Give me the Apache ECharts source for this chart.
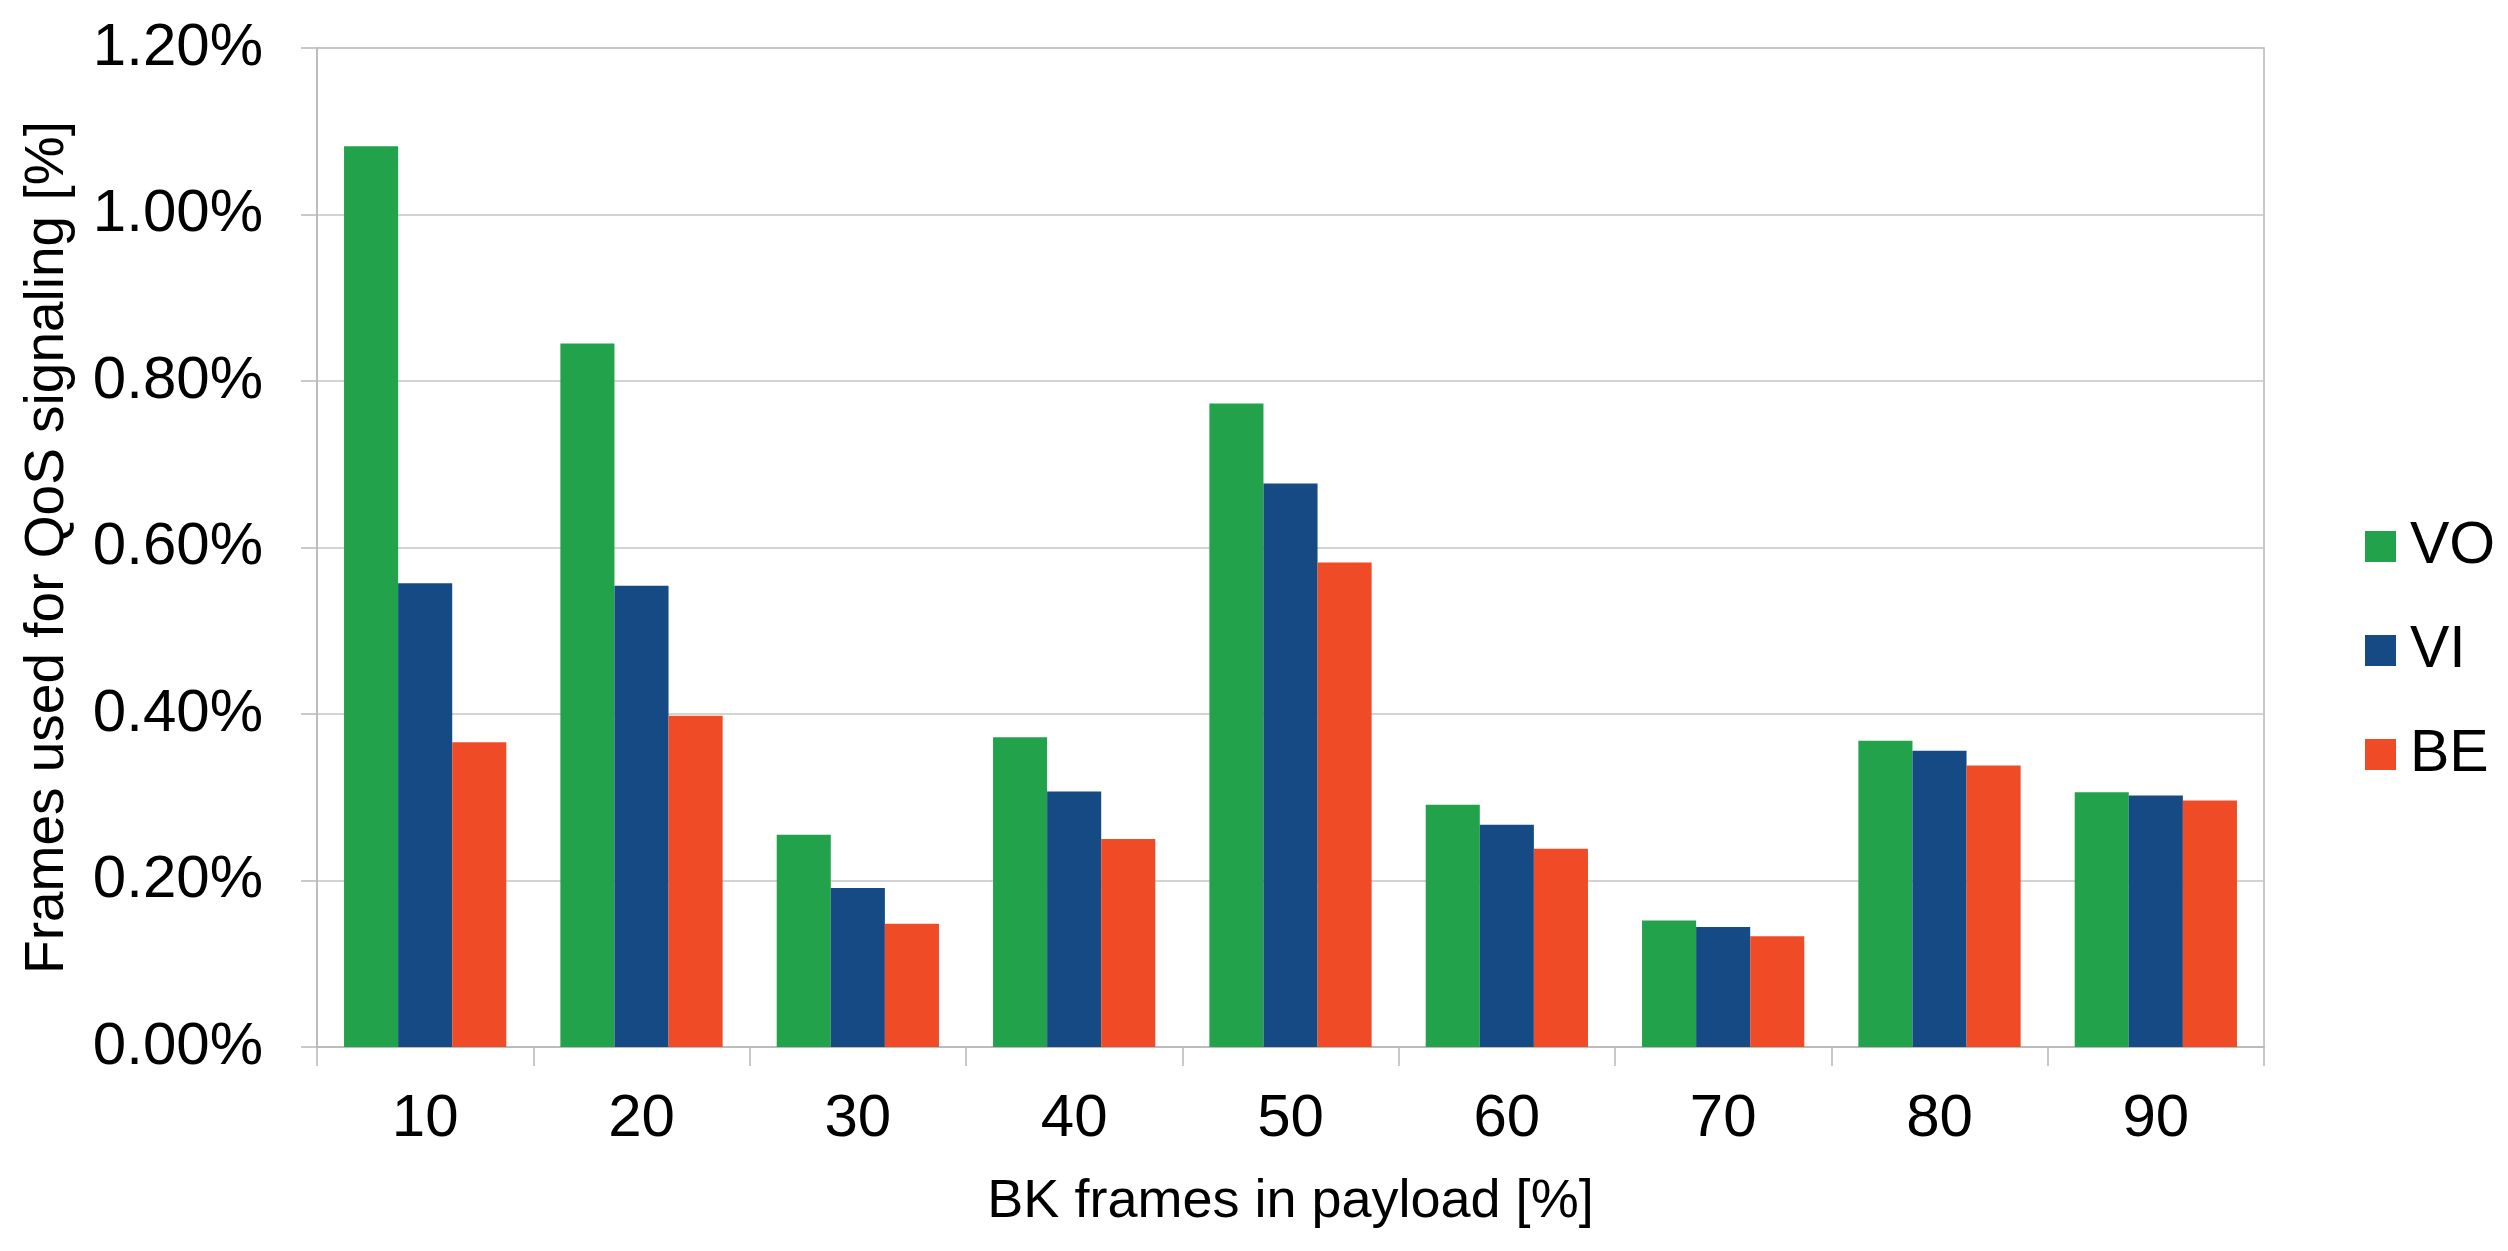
<!DOCTYPE html>
<html>
<head>
<meta charset="utf-8">
<script src="https://cdn.jsdelivr.net/npm/echarts@6/dist/echarts.min.js"></script>
<style>
html,body{margin:0;padding:0;background:#fff;}
#chart{width:2508px;height:1251px;}
</style>
</head>
<body>
<div id="chart"></div>
<script>
const categories = ['10','20','30','40','50','60','70','80','90'];
const seriesNames = ['VO','VI','BE'];
const voValues = [1.082, 0.845, 0.255, 0.372, 0.773, 0.291, 0.152, 0.368, 0.306];
const viValues = [0.557, 0.554, 0.191, 0.307, 0.677, 0.267, 0.144, 0.356, 0.302];
const beValues = [0.366, 0.398, 0.148, 0.250, 0.582, 0.238, 0.133, 0.338, 0.296];
const colors = ['#22A34B', '#154A85', '#EF4B27'];
const xTitle = 'BK frames in payload [%]';
const yTitle = 'Frames used for QoS signaling [%]';

const FONT = 'Liberation Sans, Arial, sans-serif';
const chart = echarts.init(document.getElementById('chart'), null, {renderer: 'canvas'});
const values = [voValues, viValues, beValues];
chart.setOption({
  animation: false,
  backgroundColor: '#ffffff',
  textStyle: {fontFamily: FONT, color: '#000'},
  grid: {left: 317, right: 244, top: 48, bottom: 204, show: true, borderColor: '#b8b8b8', borderWidth: 1.5},
  legend: {
    orient: 'vertical',
    left: 2360,
    top: 512,
    itemWidth: 31,
    itemHeight: 31,
    itemGap: 45,
    icon: 'rect',
    data: seriesNames,
    textStyle: {fontFamily: FONT, fontSize: 59, color: '#000', lineHeight: 59, padding: [0, 0, 0, 9]}
  },
  xAxis: {
    type: 'category',
    data: categories,
    boundaryGap: true,
    name: xTitle,
    nameLocation: 'middle',
    nameGap: 128,
    nameTextStyle: {fontFamily: FONT, fontSize: 54, color: '#000'},
    axisLine: {show: true, lineStyle: {color: '#b8b8b8', width: 1.5}},
    axisTick: {show: true, length: 19, lineStyle: {color: '#b8b8b8', width: 1.5}},
    axisLabel: {fontFamily: FONT, fontSize: 60, color: '#000', margin: 42},
    splitLine: {show: false}
  },
  yAxis: {
    type: 'value',
    min: 0,
    max: 1.2,
    interval: 0.2,
    name: yTitle,
    nameLocation: 'middle',
    nameGap: 242,
    nameTextStyle: {fontFamily: FONT, fontSize: 55, color: '#000'},
    axisLine: {show: true, lineStyle: {color: '#b8b8b8', width: 1.5}},
    axisTick: {show: true, length: 16, lineStyle: {color: '#b8b8b8', width: 1.5}},
    axisLabel: {fontFamily: FONT, fontSize: 60, color: '#000', margin: 54,
      formatter: v => v.toFixed(2) + '%'},
    splitLine: {show: true, lineStyle: {color: '#c4c4c4', width: 1.5}}
  },
  series: seriesNames.map((n, i) => ({
    name: n,
    type: 'bar',
    data: values[i],
    barGap: '0%',
    barCategoryGap: '25%',
    itemStyle: {color: colors[i]}
  }))
});
</script>
</body>
</html>
